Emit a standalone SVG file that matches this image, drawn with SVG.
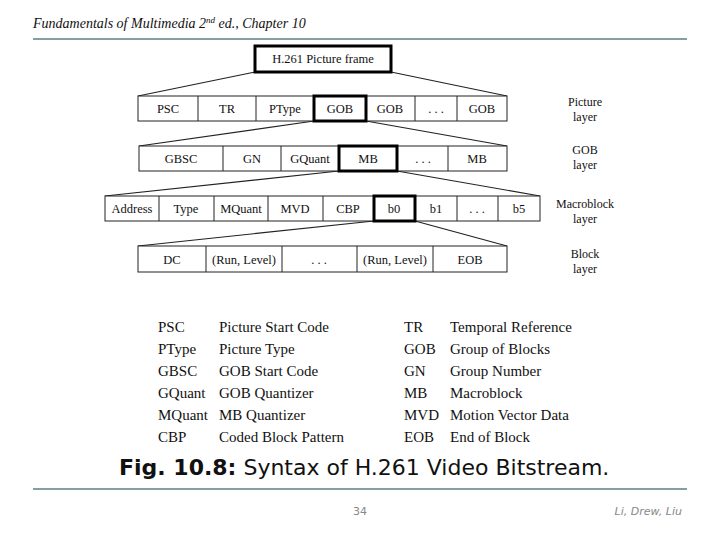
<svg xmlns="http://www.w3.org/2000/svg" width="720" height="540" viewBox="0 0 720 540">
<style>
.cell{fill:#fff;stroke:#222;stroke-width:1}
.sel{fill:none;stroke:#000;stroke-width:3}
.t{font-family:"Liberation Serif",serif;font-size:12.5px;fill:#111;text-anchor:middle}
.lab{font-family:"Liberation Serif",serif;font-size:12px;fill:#111;text-anchor:middle}
.lg{font-family:"Liberation Serif",serif;font-size:15px;fill:#111}
.con{stroke:#222;stroke-width:1.2;fill:none}
.rule{stroke:#5f7d88;stroke-width:1.5}
</style>
<rect width="720" height="540" fill="#fff"/>
<text x="33" y="28" font-family="Liberation Serif,serif" font-style="italic" font-size="14" fill="#111">Fundamentals of Multimedia 2<tspan font-size="9" dy="-5">nd</tspan><tspan dy="5"> ed., Chapter 10</tspan></text>
<line class="rule" x1="33" y1="39" x2="687" y2="39"/>

<g id="connectors">
<line class="con" x1="255" y1="72" x2="138" y2="96"/>
<line class="con" x1="391" y1="72" x2="507" y2="96"/>
<line class="con" x1="314" y1="121" x2="139" y2="146"/>
<line class="con" x1="366" y1="121" x2="507" y2="146"/>
<line class="con" x1="339" y1="171" x2="105" y2="196"/>
<line class="con" x1="397" y1="171" x2="540" y2="196"/>
<line class="con" x1="374" y1="221" x2="138" y2="246"/>
<line class="con" x1="415" y1="221" x2="507" y2="246"/>
</g>

<g id="frame">
<rect class="cell" x="255" y="46" width="136" height="26"/>
<rect class="sel" x="255" y="46" width="136" height="26"/>
<text class="t" x="323" y="63">H.261 Picture frame</text>
</g>

<g id="picture-layer">
<rect class="cell" x="138" y="96" width="369" height="25"/>
<line class="cell" x1="198" y1="96" x2="198" y2="121"/>
<line class="cell" x1="256" y1="96" x2="256" y2="121"/>
<line class="cell" x1="415" y1="96" x2="415" y2="121"/>
<line class="cell" x1="457" y1="96" x2="457" y2="121"/>
<rect class="sel" x="314" y="96" width="52" height="25"/>
<text class="t" x="168" y="113">PSC</text>
<text class="t" x="227" y="113">TR</text>
<text class="t" x="285" y="113">PType</text>
<text class="t" x="340" y="113">GOB</text>
<text class="t" x="390" y="113">GOB</text>
<text class="t" x="436" y="113">. . .</text>
<text class="t" x="482" y="113">GOB</text>
<text class="lab" x="585" y="106">Picture</text>
<text class="lab" x="585" y="121">layer</text>
</g>

<g id="gob-layer">
<rect class="cell" x="139" y="146" width="368" height="25"/>
<line class="cell" x1="223" y1="146" x2="223" y2="171"/>
<line class="cell" x1="281" y1="146" x2="281" y2="171"/>
<line class="cell" x1="448" y1="146" x2="448" y2="171"/>
<rect class="sel" x="339" y="146" width="58" height="25"/>
<text class="t" x="181" y="163">GBSC</text>
<text class="t" x="252" y="163">GN</text>
<text class="t" x="310" y="163">GQuant</text>
<text class="t" x="368" y="163">MB</text>
<text class="t" x="423" y="163">. . .</text>
<text class="t" x="477" y="163">MB</text>
<text class="lab" x="585" y="154">GOB</text>
<text class="lab" x="585" y="169">layer</text>
</g>

<g id="macroblock-layer">
<rect class="cell" x="105" y="196" width="435" height="25"/>
<line class="cell" x1="159" y1="196" x2="159" y2="221"/>
<line class="cell" x1="214" y1="196" x2="214" y2="221"/>
<line class="cell" x1="268" y1="196" x2="268" y2="221"/>
<line class="cell" x1="323" y1="196" x2="323" y2="221"/>
<line class="cell" x1="457" y1="196" x2="457" y2="221"/>
<line class="cell" x1="498" y1="196" x2="498" y2="221"/>
<rect class="sel" x="374" y="196" width="41" height="25"/>
<text class="t" x="132" y="213">Address</text>
<text class="t" x="186" y="213">Type</text>
<text class="t" x="241" y="213">MQuant</text>
<text class="t" x="295" y="213">MVD</text>
<text class="t" x="348" y="213">CBP</text>
<text class="t" x="394" y="213">b0</text>
<text class="t" x="436" y="213">b1</text>
<text class="t" x="477" y="213">. . .</text>
<text class="t" x="519" y="213">b5</text>
<text class="lab" x="585" y="208">Macroblock</text>
<text class="lab" x="585" y="223">layer</text>
</g>

<g id="block-layer">
<rect class="cell" x="138" y="246" width="369" height="26"/>
<line class="cell" x1="206" y1="246" x2="206" y2="272"/>
<line class="cell" x1="282" y1="246" x2="282" y2="272"/>
<line class="cell" x1="357" y1="246" x2="357" y2="272"/>
<line class="cell" x1="433" y1="246" x2="433" y2="272"/>
<text class="t" x="172" y="264">DC</text>
<text class="t" x="244" y="264">(Run, Level)</text>
<text class="t" x="319" y="264">. . .</text>
<text class="t" x="395" y="264">(Run, Level)</text>
<text class="t" x="470" y="264">EOB</text>
<text class="lab" x="585" y="258">Block</text>
<text class="lab" x="585" y="273">layer</text>
</g>

<g id="legend">
<text class="lg" x="158" y="332">PSC</text><text class="lg" x="219" y="332">Picture Start Code</text>
<text class="lg" x="158" y="354">PType</text><text class="lg" x="219" y="354">Picture Type</text>
<text class="lg" x="158" y="376">GBSC</text><text class="lg" x="219" y="376">GOB Start Code</text>
<text class="lg" x="158" y="398">GQuant</text><text class="lg" x="219" y="398">GOB Quantizer</text>
<text class="lg" x="158" y="420">MQuant</text><text class="lg" x="219" y="420">MB Quantizer</text>
<text class="lg" x="158" y="442">CBP</text><text class="lg" x="219" y="442">Coded Block Pattern</text>
<text class="lg" x="404" y="332">TR</text><text class="lg" x="450" y="332">Temporal Reference</text>
<text class="lg" x="404" y="354">GOB</text><text class="lg" x="450" y="354">Group of Blocks</text>
<text class="lg" x="404" y="376">GN</text><text class="lg" x="450" y="376">Group Number</text>
<text class="lg" x="404" y="398">MB</text><text class="lg" x="450" y="398">Macroblock</text>
<text class="lg" x="404" y="420">MVD</text><text class="lg" x="450" y="420">Motion Vector Data</text>
<text class="lg" x="404" y="442">EOB</text><text class="lg" x="450" y="442">End of Block</text>
</g>

<text x="119" y="475" font-family="DejaVu Sans,sans-serif" font-size="22" fill="#111"><tspan font-weight="bold">Fig. 10.8:</tspan> Syntax of H.261 Video Bitstream.</text>
<line class="rule" x1="33" y1="489" x2="687" y2="489"/>
<text x="360" y="515" font-family="DejaVu Sans,sans-serif" font-size="11" fill="#888" text-anchor="middle">34</text>
<text x="682" y="515" font-family="DejaVu Sans,sans-serif" font-style="italic" font-size="11" fill="#888" text-anchor="end">Li, Drew, Liu</text>
</svg>
